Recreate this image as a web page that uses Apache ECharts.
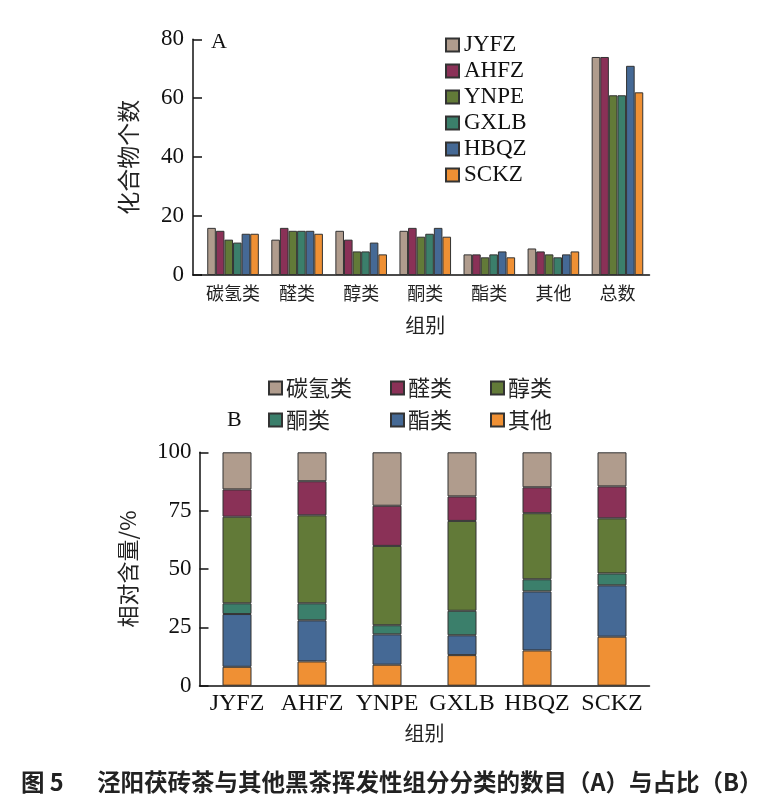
<!DOCTYPE html>
<html><head><meta charset="utf-8">
<script src="https://cdn.jsdelivr.net/npm/echarts@6/dist/echarts.min.js"></script>
<style>html,body{margin:0;padding:0;background:#fff}#c{width:765px;height:812px}</style>
</head><body><div id="c"></div>
<script>
// ---- Panel A data ----
const groupsA = ['碳氢类', '醛类', '醇类', '酮类', '酯类', '其他', '总数'];
const teaNames = ['JYFZ', 'AHFZ', 'YNPE', 'GXLB', 'HBQZ', 'SCKZ'];
const JYFZ = [16, 12, 15, 15, 7, 9, 74];
const AHFZ = [15, 16, 12, 16, 7, 8, 74];
const YNPE = [12, 15, 8, 13, 6, 7, 61];
const GXLB = [11, 15, 8, 14, 7, 6, 61];
const HBQZ = [14, 15, 11, 16, 8, 7, 71];
const SCKZ = [14, 14, 7, 13, 6, 8, 62];
const yTicksA = [0, 20, 40, 60, 80];

// ---- Panel B data (relative content %) ----
const teasB = ['JYFZ', 'AHFZ', 'YNPE', 'GXLB', 'HBQZ', 'SCKZ'];
const qita = [8.1, 10.4, 9.0, 13.1, 15.1, 21.0];     // 其他
const zhilei = [22.6, 17.6, 13.0, 8.5, 25.3, 22.0];  // 酯类
const tonglei = [4.6, 7.3, 3.9, 10.5, 5.2, 5.1];     // 酮类
const chunlei = [37.1, 37.7, 34.0, 38.5, 28.3, 23.6];// 醇类
const quanlei = [11.7, 14.6, 17.2, 10.5, 11.1, 13.7];// 醛类
const tanqing = [15.9, 12.4, 22.9, 18.9, 15.0, 14.6];// 碳氢类
const yTicksB = [0, 25, 50, 75, 100];

const colTan = '#B09C8D', colMar = '#8A3157', colGrn = '#627A38',
      colTeal = '#3B7F6B', colBlue = '#456995', colOra = '#EF9034';
const teaColors = [colTan, colMar, colGrn, colTeal, colBlue, colOra];
const teaData = [JYFZ, AHFZ, YNPE, GXLB, HBQZ, SCKZ];

const serif = 'Liberation Serif';
const cjk = 'Noto Sans CJK SC';
const border = '#333';

const seriesA = teaNames.map((n, i) => ({
  name: n, type: 'bar', xAxisIndex: 0, yAxisIndex: 0,
  data: teaData[i], barWidth: 8.6, barGap: '0%',
  itemStyle: { color: teaColors[i], borderColor: border, borderWidth: 1 }
}));

const bDefs = [
  ['其他', qita, colOra], ['酯类', zhilei, colBlue], ['酮类', tonglei, colTeal],
  ['醇类', chunlei, colGrn], ['醛类', quanlei, colMar], ['碳氢类', tanqing, colTan]
];
const seriesB = bDefs.map(d => ({
  name: d[0], type: 'bar', stack: 'b', xAxisIndex: 1, yAxisIndex: 1,
  data: d[1], barWidth: 29,
  itemStyle: { color: d[2], borderColor: border, borderWidth: 1 }
}));

const legTxtCJK = { fontFamily: cjk, fontSize: 22, color: '#222', lineHeight: 26, padding: [0, 0, 0, -1] };
function bLegend(left, names) {
  return {
    orient: 'vertical', left: left, top: 375, itemWidth: 13, itemHeight: 13, icon: 'rect',
    itemGap: 6, textStyle: legTxtCJK, data: names, selectedMode: false, padding: 0
  };
}

const chart = echarts.init(document.getElementById('c'));
chart.setOption({
  animation: false,
  grid: [
    { left: 201, right: 115.5, top: 39.3, bottom: 537 },
    { left: 199.5, right: 115.5, top: 452.3, bottom: 126.3 }
  ],
  legend: [
    {
      orient: 'vertical', left: 445, top: 32, itemWidth: 13, itemHeight: 13, itemGap: 0, icon: 'rect',
      padding: 0, selectedMode: false, data: teaNames,
      textStyle: { fontFamily: serif, fontSize: 23, color: '#111', lineHeight: 26 }
    },
    bLegend(268, ['碳氢类', '酮类']),
    bLegend(390, ['醛类', '酯类']),
    bLegend(490, ['醇类', '其他'])
  ],
  xAxis: [
    {
      gridIndex: 0, type: 'category', data: groupsA,
      axisLine: { lineStyle: { color: '#111', width: 1.5 } },
      axisTick: { inside: true, length: 8, interval: 0, lineStyle: { color: '#111', width: 1.5 } },
      axisLabel: { fontFamily: cjk, fontSize: 18, color: '#222', margin: 9, interval: 0 },
      name: '组别', nameLocation: 'middle', nameGap: 40,
      nameTextStyle: { fontFamily: cjk, fontSize: 20, color: '#222' }
    },
    {
      gridIndex: 1, type: 'category', data: teasB,
      axisLine: { lineStyle: { color: '#111', width: 1.5 } },
      axisTick: { inside: true, length: 8, interval: 0, lineStyle: { color: '#111', width: 1.5 } },
      axisLabel: { fontFamily: serif, fontSize: 24, color: '#111', margin: 6, interval: 0 },
      name: '组别', nameLocation: 'middle', nameGap: 38,
      nameTextStyle: { fontFamily: cjk, fontSize: 20, color: '#222' }
    }
  ],
  yAxis: [
    {
      gridIndex: 0, type: 'value', min: 0, max: 80, interval: 20, offset: 8,
      splitLine: { show: false },
      axisLine: { show: true, lineStyle: { color: '#111', width: 1.5 } },
      axisTick: { show: true, inside: true, length: 9, lineStyle: { color: '#111', width: 1.5 } },
      axisLabel: { fontFamily: serif, fontSize: 23, color: '#111', margin: 9,
        formatter: v => yTicksA.includes(v) ? String(v) : '' },
      name: '化合物个数', nameLocation: 'middle', nameGap: 53,
      nameTextStyle: { fontFamily: cjk, fontSize: 23, color: '#222' }
    },
    {
      gridIndex: 1, type: 'value', min: 0, max: 100, interval: 25,
      splitLine: { show: false },
      axisLine: { show: true, lineStyle: { color: '#111', width: 1.5 } },
      axisTick: { show: true, inside: true, length: 9, lineStyle: { color: '#111', width: 1.5 } },
      axisLabel: { fontFamily: serif, fontSize: 23, color: '#111', margin: 8,
        formatter: v => yTicksB.includes(v) ? String(v) : '' },
      name: '相对含量/%', nameLocation: 'middle', nameGap: 61,
      nameTextStyle: { fontFamily: cjk, fontSize: 22, color: '#222' }
    }
  ],
  series: seriesA.concat(seriesB)
});

const y0 = chart.convertToPixel({ xAxisIndex: 0, yAxisIndex: 0 }, [0, 0])[1];
chart.setOption({
  graphic: [
    { type: 'line', shape: { x1: 192.3, y1: y0, x2: 202, y2: y0 }, style: { stroke: '#111', lineWidth: 1.5 } },
    { type: 'text', left: 211, top: 31, style: { text: 'A', font: '22px "Liberation Serif"', fill: '#111' } },
    { type: 'text', left: 227, top: 409, style: { text: 'B', font: '22px "Liberation Serif"', fill: '#111' } },
    { type: 'text', left: 21, top: 770, style: { text: '图 5', font: 'bold 23.5px "Noto Sans CJK SC"', fill: '#222' } },
    { type: 'text', left: 97, top: 770, style: { text: '泾阳茯砖茶与其他黑茶挥发性组分分类的数目（A）与占比（B）', font: 'bold 23.5px "Noto Sans CJK SC"', fill: '#222' } }
  ]
});
</script></body></html>
